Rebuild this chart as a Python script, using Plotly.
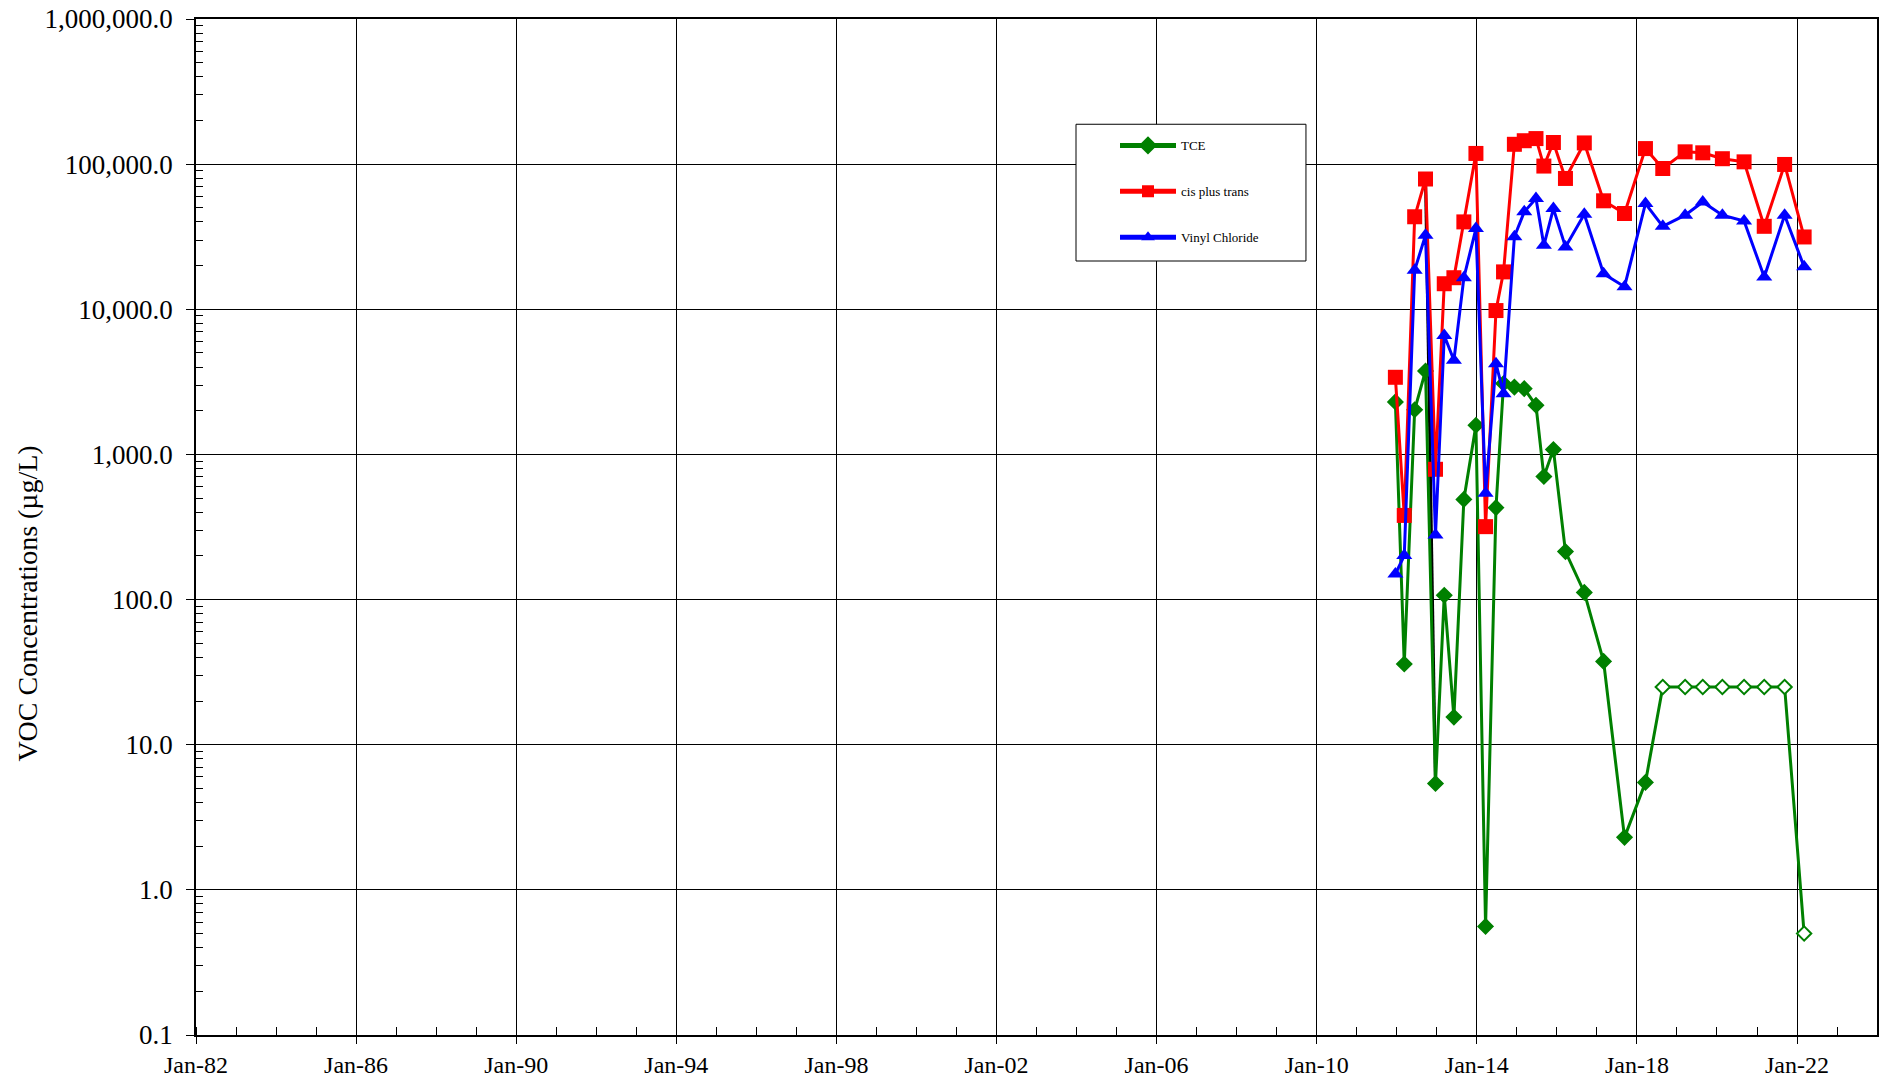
import plotly.graph_objects as go

# Sampling dates shared by the three constituents
sample_dates = [
    "2011-12-20", "2012-03-10", "2012-06-13", "2012-09-20", "2012-12-20",
    "2013-03-10", "2013-06-06", "2013-09-05", "2013-12-24", "2014-03-22",
    "2014-06-25", "2014-09-02", "2014-12-10", "2015-03-10", "2015-06-25",
    "2015-09-05", "2015-12-01", "2016-03-20", "2016-09-08", "2017-03-03",
    "2017-09-10", "2018-03-20", "2018-08-25", "2019-03-17", "2019-08-25",
    "2020-02-20", "2020-09-05", "2021-03-08", "2021-09-10", "2022-03-07",
]

# TCE (ug/L); non-detects are reported at the reporting limit
tce = [2300, 36, 2030, 3760, 5.4, 107, 15.5, 490, 1590, 0.56,
       430, 3080, 2910, 2840, 2180, 705, 1080, 214, 112, 37.5,
       2.3, 5.5, 25, 25, 25, 25, 25, 25, 25, 0.5]
tce_nondetect = [False] * 22 + [True] * 8

# cis- plus trans-1,2-DCE (ug/L)
cis_trans = [3400, 380, 43400, 79000, 790, 15000, 16500, 40000, 118500, 318,
             9800, 18100, 137000, 145000, 150000, 97000, 141000, 79700, 140000, 55900,
             45700, 128000, 93300, 121600, 119700, 109000, 103700, 37300, 99500, 31500]

# Vinyl chloride (ug/L)
vinyl_chloride = [150, 201, 18600, 32400, 279, 6600, 4450, 16500, 36000, 541,
                  4220, 2620, 31600, 46900, 58000, 27600, 49400, 26900, 45200, 17600,
                  14300, 53500, 37300, 44500, 54900, 44500, 40600, 16700, 44500, 19600]

# Connector drawn between two readings in late 2012
connector_dates = ["2012-09-20", "2012-12-20"]
connector_values = [79000, 5.4]

# Axis labelling
y_tick_values = [0.1, 1, 10, 100, 1000, 10000, 100000, 1000000]
y_tick_text = ["0.1", "1.0", "10.0", "100.0", "1,000.0", "10,000.0", "100,000.0", "1,000,000.0"]
x_tick_years = list(range(1982, 2023, 4))
y_title = "VOC Concentrations (µg/L)"

FONT = "Liberation Serif"

minor_y = [m * 10.0 ** e for e in range(-1, 6) for m in range(2, 10)]

fig = go.Figure()

fig.add_trace(go.Scatter(
    x=connector_dates, y=connector_values, mode="lines",
    line=dict(color="black", width=3), showlegend=False, hoverinfo="skip",
))

fig.add_trace(go.Scatter(
    x=sample_dates, y=tce, name="TCE", mode="lines+markers",
    legendgroup="tce",
    line=dict(color="#008000", width=3),
    marker=dict(symbol="diamond", size=11,
                color=["white" if nd else "#008000" for nd in tce_nondetect],
                line=dict(color="#008000", width=2)),
))

fig.add_trace(go.Scatter(
    x=sample_dates, y=cis_trans, name="cis plus trans", mode="lines+markers",
    legendgroup="cis",
    line=dict(color="#FF0000", width=3),
    marker=dict(symbol="square", size=15, color="#FF0000"),
))

fig.add_trace(go.Scatter(
    x=sample_dates, y=vinyl_chloride, name="Vinyl Chloride", mode="lines+markers",
    legendgroup="vc",
    line=dict(color="#0000FF", width=3),
    marker=dict(symbol="triangle-up", size=14, color="#0000FF"),
))

# Framed white panel behind the legend entries
fig.add_shape(
    type="rect", xref="paper", yref="paper",
    x0=0.5235, x1=0.6603, y0=0.7618, y1=0.8964,
    fillcolor="white", line=dict(color="black", width=1), layer="above",
)

fig.add_annotation(
    text=y_title, textangle=-90, xref="paper", yref="paper",
    x=-0.1, y=0.4245, xanchor="center", yanchor="middle", showarrow=False,
    font=dict(family=FONT, size=28, color="black"),
)

fig.update_layout(
    width=1883, height=1077,
    margin=dict(l=196, r=6, t=19, b=42, autoexpand=False),
    paper_bgcolor="white", plot_bgcolor="white",
    font=dict(family=FONT, color="black", size=24),
    showlegend=True,
    legend=dict(
        x=0.5467, y=0.8903, xanchor="left", yanchor="top",
        bgcolor="rgba(0,0,0,0)", borderwidth=0,
        font=dict(family=FONT, size=13, color="black"),
        tracegroupgap=26, traceorder="grouped",
        itemsizing="constant", itemwidth=56,
    ),
    xaxis=dict(
        type="date", automargin=False,
        range=["1982-01-01", "2024-01-01"],
        tickvals=[f"{y}-01-01" for y in x_tick_years],
        ticktext=[f"Jan-{y % 100:02d}" for y in x_tick_years],
        ticks="outside", ticklen=7, tickwidth=1, tickcolor="black",
        showgrid=True, gridcolor="black", gridwidth=1,
        showline=True, linecolor="black", linewidth=1.5, mirror=True,
        zeroline=False,
        tickfont=dict(family=FONT, size=24),
        minor=dict(tickvals=[f"{y}-01-01" for y in range(1982, 2024)],
                   ticks="inside", ticklen=8, tickcolor="black", showgrid=False),
    ),
    yaxis=dict(
        type="log", automargin=False,
        range=[-1, 6],
        tickvals=y_tick_values, ticktext=y_tick_text,
        ticks="outside", ticklen=8, tickwidth=1, tickcolor="black",
        ticklabelstandoff=8,
        showgrid=True, gridcolor="black", gridwidth=1,
        showline=True, linecolor="black", linewidth=1.5, mirror=True,
        zeroline=False,
        tickfont=dict(family=FONT, size=27),
        minor=dict(tickvals=minor_y, ticks="inside", ticklen=7, tickcolor="black", showgrid=False),
    ),
)

fig.write_html("out.html")
